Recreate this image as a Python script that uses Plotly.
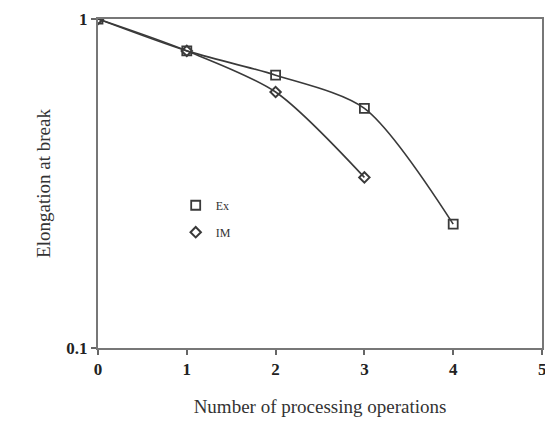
import plotly.graph_objects as go

ops_ex = [0, 1, 2, 3, 4]
elong_ex = [1.0, 0.80, 0.675, 0.535, 0.238]
ops_im = [0, 1, 2, 3]
elong_im = [1.0, 0.80, 0.60, 0.33]
x_ticks = [0, 1, 2, 3, 4, 5]

line_col = "#3a3a3a"
font_fam = "Liberation Serif, DejaVu Serif, serif"

fig = go.Figure()
fig.add_trace(go.Scatter(x=ops_ex, y=elong_ex, mode="lines", line=dict(color=line_col, width=1.6, shape="spline", smoothing=0.8), showlegend=False, hoverinfo="skip"))
fig.add_trace(go.Scatter(x=ops_im, y=elong_im, mode="lines", line=dict(color=line_col, width=1.6, shape="spline", smoothing=0.8), showlegend=False, hoverinfo="skip"))
fig.add_trace(go.Scatter(x=ops_ex, y=elong_ex, mode="markers", name="Ex", legendgroup="ex",
                         marker=dict(symbol="square-open", size=9, color=line_col, line=dict(width=1.8, color=line_col))))
fig.add_trace(go.Scatter(x=ops_im, y=elong_im, mode="markers", name="IM", legendgroup="im",
                         marker=dict(symbol="diamond-open", size=8, color=line_col, line=dict(width=2, color=line_col))))

tick_font = dict(size=17, family=font_fam, color="#222", weight="bold")

fig.update_layout(
    width=545, height=421,
    margin=dict(l=98, r=1, t=19, b=73),
    paper_bgcolor="white", plot_bgcolor="white",
    font=dict(family=font_fam, color="#333"),
    showlegend=True,
    legend=dict(x=0.175, y=0.478, xanchor="left", yanchor="top", bgcolor="rgba(0,0,0,0)", itemwidth=30,
                font=dict(size=12, family=font_fam, color="#333"), traceorder="grouped", tracegroupgap=8),
    xaxis=dict(range=[0, 5], tickvals=x_ticks, ticktext=[str(v) for v in x_ticks[:-1]] + [""],
               ticks="outside", ticklen=5, tickwidth=1.5, tickcolor="#666",
               showline=True, linecolor="#777", linewidth=2, mirror=True, showgrid=False, zeroline=False,
               tickfont=tick_font,
               title=dict(text="Number of processing operations", font=dict(size=19, family=font_fam, color="#333"), standoff=21)),
    yaxis=dict(type="log", range=[-1, 0], tickvals=[0.1, 1], ticktext=["0.1", "1"], ticks="outside", ticklen=5, tickwidth=1.5, tickcolor="#666",
               showline=True, linecolor="#777", linewidth=2, mirror=True, showgrid=False, zeroline=False,
               tickfont=tick_font,
               title=dict(text="Elongation at break", font=dict(size=19, family=font_fam, color="#333"), standoff=11)),
)

# last x tick label (partly beyond the page edge, as in the reference)
fig.add_annotation(x=x_ticks[-1], y=0, xref="x", yref="paper", yanchor="top", yshift=-10,
                   text=str(x_ticks[-1]), showarrow=False, font=tick_font)

fig.write_html("out.html")
